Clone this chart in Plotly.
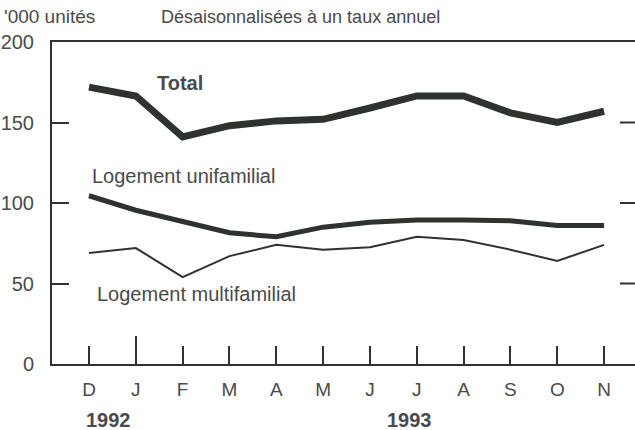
import plotly.graph_objects as go

months = ["D", "J", "F", "M", "A", "M", "J", "J", "A", "S", "O", "N"]
total = [172, 166.5, 141, 148, 151, 152, 159, 166.5, 166.5, 156, 150, 157]
unifamilial = [104.5, 95.5, 88.5, 81.5, 79, 85, 88, 89.5, 89.5, 89, 86, 86]
multifamilial = [69, 72, 54, 67, 74, 71, 72.5, 79, 77, 71, 64, 74]
y_ticks = [0, 50, 100, 150, 200]
right_ticks = [50, 100, 150]
years = ["1992", "1993"]

x = list(range(len(months)))
ink = "#2e332f"
txt = "#4a4a4a"
font = "Liberation Sans, Arial, sans-serif"

fig = go.Figure()
fig.add_trace(go.Scatter(x=x, y=multifamilial, mode="lines",
                         line=dict(color=ink, width=2), showlegend=False))
fig.add_trace(go.Scatter(x=x, y=unifamilial, mode="lines",
                         line=dict(color=ink, width=5), showlegend=False))
fig.add_trace(go.Scatter(x=x, y=total, mode="lines",
                         line=dict(color=ink, width=7), showlegend=False))

xr = [-0.79, 11.66]
fig.update_layout(
    width=635, height=430,
    margin=dict(l=52, r=0, t=42, b=66),
    paper_bgcolor="white", plot_bgcolor="white",
    font=dict(family=font, size=19, color=txt),
    xaxis=dict(range=xr, tickmode="array", tickvals=x, ticktext=months,
               ticks="inside", ticklen=18, tickwidth=2, tickcolor=ink,
               showline=True, linecolor=ink, linewidth=2, mirror=True,
               showgrid=False, zeroline=False, ticklabelstandoff=7,
               tickfont=dict(size=19, color=txt)),
    xaxis2=dict(range=xr, overlaying="x", anchor="y", side="bottom",
                tickmode="array", tickvals=[1], ticks="inside", ticklen=28,
                tickwidth=2, tickcolor=ink, showticklabels=False,
                showline=False, showgrid=False, zeroline=False),
    yaxis=dict(range=[0, 200], tickmode="array", tickvals=y_ticks,
               ticks="inside", ticklen=17, tickwidth=2, tickcolor=ink,
               showline=True, linecolor=ink, linewidth=2,
               showgrid=False, zeroline=False, ticklabelstandoff=12,
               tickfont=dict(size=20, color=txt)),
    shapes=[dict(type="line", xref="paper", yref="y", x0=(620 - 52) / 583, x1=1,
                 y0=v, y1=v, line=dict(color=ink, width=2)) for v in right_ticks],
)
fig.add_trace(go.Scatter(x=[None], y=[None], xaxis="x2", yaxis="y", showlegend=False))

ann = [
    dict(text="'000 unités", xref="paper", yref="paper", x=-50/583, y=(430-17-66)/322,
         xanchor="left", yanchor="middle", font=dict(size=19, color=txt)),
    dict(text="Désaisonnalisées à un taux annuel", xref="paper", yref="paper",
         x=(159-52)/583, y=(430-17-66)/322, xanchor="left", yanchor="middle",
         font=dict(size=18, color=txt)),
    dict(text="<b>Total</b>", xref="x", yref="y", x=1.944, y=174.5,
         xanchor="center", yanchor="middle", font=dict(size=20, color=txt)),
    dict(text="Logement unifamilial", xref="x", yref="y", x=0.02, y=116.8,
         xanchor="left", yanchor="middle", font=dict(size=20, color=txt)),
    dict(text="Logement multifamilial", xref="x", yref="y", x=0.128, y=43.5,
         xanchor="left", yanchor="middle", font=dict(size=20, color=txt)),
    dict(text="<b>" + years[0] + "</b>", xref="x", yref="paper", x=0.406, y=-(420-364)/322,
         xanchor="center", yanchor="middle", font=dict(size=20, color=txt)),
    dict(text="<b>" + years[1] + "</b>", xref="x", yref="paper", x=6.85, y=-(420-364)/322,
         xanchor="center", yanchor="middle", font=dict(size=20, color=txt)),
]
fig.update_layout(annotations=[dict(showarrow=False, **a) for a in ann])

fig.write_html("out.html", config={"displayModeBar": False},
               post_script="document.body.style.margin='0px';")
